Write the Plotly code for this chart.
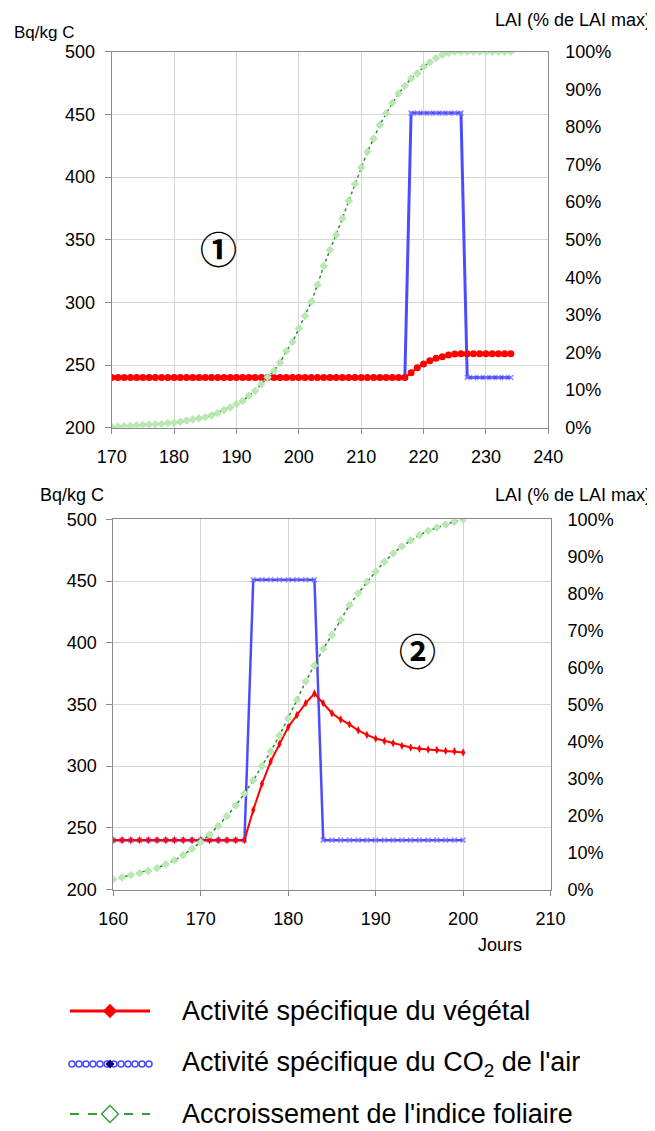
import plotly.graph_objects as go

# ---------------- data ----------------
days_top = list(range(170, 235))
red_top = [240]*48 + [243.9, 247.9, 250.8, 253.5, 255.4, 256.7, 258.0, 258.8] + [259]*9
blue_top = [240]*48 + [451]*9 + [240]*8
lai_top = [0.2, 0.3, 0.4, 0.5, 0.6, 0.7, 0.8, 0.9, 1.0, 1.2,
           1.3, 1.6, 1.9, 2.2, 2.5, 2.8, 3.3, 3.9, 4.7, 5.4,
           6.3, 7.1, 8.5, 9.8, 11.6, 13.4, 15.1, 17.3, 20.4, 22.8,
           26.4, 29.7, 33.5, 38.0, 43.0, 47.3, 51.3, 55.7, 60.3, 64.8,
           69.2, 73.4, 76.9, 80.5, 83.6, 86.4, 88.9, 90.9, 92.9, 94.2,
           96.0, 97.2, 98.3, 99.2, 99.7, 100, 100, 100, 100, 100,
           100, 100, 100, 100, 100]

days_bot = list(range(160, 201))
red_bot = [240]*16 + [264.4, 285.6, 303.8, 318.0, 331.6, 341.4, 351.0, 358.8, 351.0,
                      342.8, 337.8, 333.8, 329.0, 325.3, 322.3, 320.4, 318.5, 316.4,
                      315.0, 314.0, 313.4, 313.1, 312.3, 312.0, 311.0]
blue_bot = [240]*16 + [451]*8 + [240]*17
lai_bot = [2.7, 3.3, 3.9, 4.4, 5.0, 5.8, 6.8, 7.9, 9.3, 11.0,
           12.8, 14.8, 17.2, 19.8, 22.7, 25.9, 29.5, 33.3, 37.3, 41.6,
           46.2, 51.2, 56.2, 60.5, 65.0, 68.8, 72.8, 76.8, 80.0, 83.1,
           85.9, 88.5, 90.8, 92.7, 94.3, 95.7, 96.9, 97.8, 98.6, 99.4, 100]

legend_names = ["Activité spécifique du végétal",
                "Activité spécifique du CO<sub>2</sub> de l'air",
                "Accroissement de l'indice foliaire"]

# ---------------- styling ----------------
OFF = 8                      # page body margin
W, H = 655 - OFF, 1131 - OFF  # figure size
def fx(px): return (px - OFF) / W
def fy(py): return 1 - (py - OFF) / H

FONT = "Liberation Sans, Arial, sans-serif"
RED = "#ff0000"
BLUE = "#4b4bff"
GREEN_LINE = "#2e8b2e"
GREEN_MK = "#b9e8b2"
GRID = "#d6d6d6"
AXL = "#8a8a8a"

fig = go.Figure()

def add_chart(days, red, blue, lai, xa, ya, ya2, red_symbol, red_size, blue_w):
    fig.add_trace(go.Scatter(x=days, y=blue, mode="lines+markers", xaxis=xa, yaxis=ya,
                             line=dict(color=BLUE, width=blue_w),
                             marker=dict(symbol="x-thin", size=5,
                                         line=dict(color="rgba(120,120,255,0.8)", width=1.5)),
                             showlegend=False))
    fig.add_trace(go.Scatter(x=days, y=red, mode="lines+markers", xaxis=xa, yaxis=ya,
                             line=dict(color=RED, width=2),
                             marker=dict(symbol=red_symbol, size=red_size, color=RED),
                             showlegend=False))
    fig.add_trace(go.Scatter(x=days, y=[v/100 for v in lai], mode="lines+markers",
                             xaxis=xa, yaxis=ya2,
                             line=dict(color=GREEN_LINE, width=1.5, dash="dot"),
                             marker=dict(symbol="diamond", size=6, color=GREEN_MK,
                                         line=dict(color="#a6dca0", width=0.5)),
                             showlegend=False))

add_chart(days_top, red_top, blue_top, lai_top, "x", "y", "y2", "circle", 7, 3)
add_chart(days_bot, red_bot, blue_bot, lai_bot, "x3", "y3", "y4", "diamond-tall", 6, 2.5)

xcommon = dict(showgrid=True, gridcolor=GRID, gridwidth=1, showline=True, linecolor=AXL,
               linewidth=1, mirror=True, ticks="outside", ticklen=5, tickcolor=AXL,
               tickfont=dict(size=18, color="black", family=FONT), zeroline=False,
               dtick=10, ticklabelstandoff=8, automargin=False)
ycommon = dict(showgrid=True, gridcolor=GRID, gridwidth=1, showline=True, linecolor=AXL,
               linewidth=1, mirror=True, ticks="outside", ticklen=6, tickcolor=AXL,
               tickfont=dict(size=18, color="black", family=FONT), zeroline=False,
               dtick=50, ticklabelstandoff=6, automargin=False)
y2common = dict(showgrid=False, showline=False, ticks="", range=[0, 1], dtick=0.1,
                tickformat=".0%", side="right", zeroline=False, automargin=False,
                tickfont=dict(size=18, color="black", family=FONT), ticklabelstandoff=16)
hidden = dict(visible=False, showticklabels=False, showgrid=False, zeroline=False,
              automargin=False)

fig.update_layout(
    width=W, height=H,
    margin=dict(l=0, r=0, t=0, b=0, pad=0, autoexpand=False),
    paper_bgcolor="white", plot_bgcolor="white",
    font=dict(family=FONT, color="black"),
    xaxis=dict(domain=[fx(111.7), fx(548.3)], anchor="y", range=[170, 240], **xcommon),
    yaxis=dict(domain=[fy(427.7), fy(51.7)], anchor="x", range=[200, 500], **ycommon),
    yaxis2=dict(overlaying="y", anchor="x", **y2common),
    xaxis3=dict(domain=[fx(113.3), fx(550.6)], anchor="y3", range=[160, 210], **xcommon),
    yaxis3=dict(domain=[fy(889.5), fy(519.3)], anchor="x3", range=[200, 500], **ycommon),
    yaxis4=dict(overlaying="y3", anchor="x3", **y2common),
    xaxis5=dict(domain=[0, 1], anchor="y5", range=[OFF, OFF + W], **hidden),
    yaxis5=dict(domain=[0, fy(985)], anchor="x5", range=[OFF + H, 985], **hidden),
    showlegend=False,
)

# ---------------- manual legend ----------------
leg_y = [1011, 1064, 1114]
fig.add_trace(go.Scatter(x=[70, 150], y=[leg_y[0]]*2, mode="lines", xaxis="x5", yaxis="y5",
                         line=dict(color=RED, width=3), showlegend=False, hoverinfo="skip"))
fig.add_trace(go.Scatter(x=[110], y=[leg_y[0]], mode="markers", xaxis="x5", yaxis="y5",
                         marker=dict(symbol="diamond", size=11, color=RED),
                         showlegend=False, hoverinfo="skip"))
blue_glyph_x = list(range(72, 150, 7))
fig.add_trace(go.Scatter(x=blue_glyph_x, y=[leg_y[1]]*len(blue_glyph_x), mode="markers",
                         xaxis="x5", yaxis="y5",
                         marker=dict(symbol="circle-open", size=6, color=BLUE,
                                     line=dict(width=1.5, color=BLUE)),
                         showlegend=False, hoverinfo="skip"))
fig.add_trace(go.Scatter(x=[110], y=[leg_y[1]], mode="markers", xaxis="x5", yaxis="y5",
                         marker=dict(symbol="diamond", size=7, color="#000080"),
                         showlegend=False, hoverinfo="skip"))
fig.add_trace(go.Scatter(x=[70, 150], y=[leg_y[2]]*2, mode="lines", xaxis="x5", yaxis="y5",
                         line=dict(color="#3a9a3a", width=2, dash="dash"),
                         showlegend=False, hoverinfo="skip"))
fig.add_trace(go.Scatter(x=[110], y=[leg_y[2]], mode="markers", xaxis="x5", yaxis="y5",
                         marker=dict(symbol="diamond", size=13, color="white",
                                     line=dict(width=1.5, color="#3a9a3a")),
                         showlegend=False, hoverinfo="skip"))
for name, yy in zip(legend_names, leg_y):
    fig.add_annotation(text=name, x=fx(180), y=fy(yy), xref="paper", yref="paper",
                       xanchor="left", yanchor="middle", showarrow=False,
                       font=dict(size=27, family=FONT, color="black"))

# ---------------- titles / labels ----------------
def lab(text, x, y, xanchor="left", size=18, family=FONT):
    fig.add_annotation(text=text, x=fx(x), y=fy(y), xref="paper", yref="paper",
                       xanchor=xanchor, yanchor="middle", showarrow=False,
                       font=dict(size=size, family=family, color="black"))

lab("Bq/kg C", 12, 33, size=17)
lab("LAI (% de LAI max)", 653, 20, xanchor="right")
lab("Bq/kg C", 38, 495)
lab("LAI (% de LAI max)", 653, 495, xanchor="right")
lab("Jours", 500, 945, xanchor="center")
lab("<b>①</b>", 218, 248, xanchor="center", size=37, family="Noto Sans CJK JP")
lab("<b>②</b>", 417, 650, xanchor="center", size=37, family="Noto Sans CJK JP")

fig.write_html("out.html")
